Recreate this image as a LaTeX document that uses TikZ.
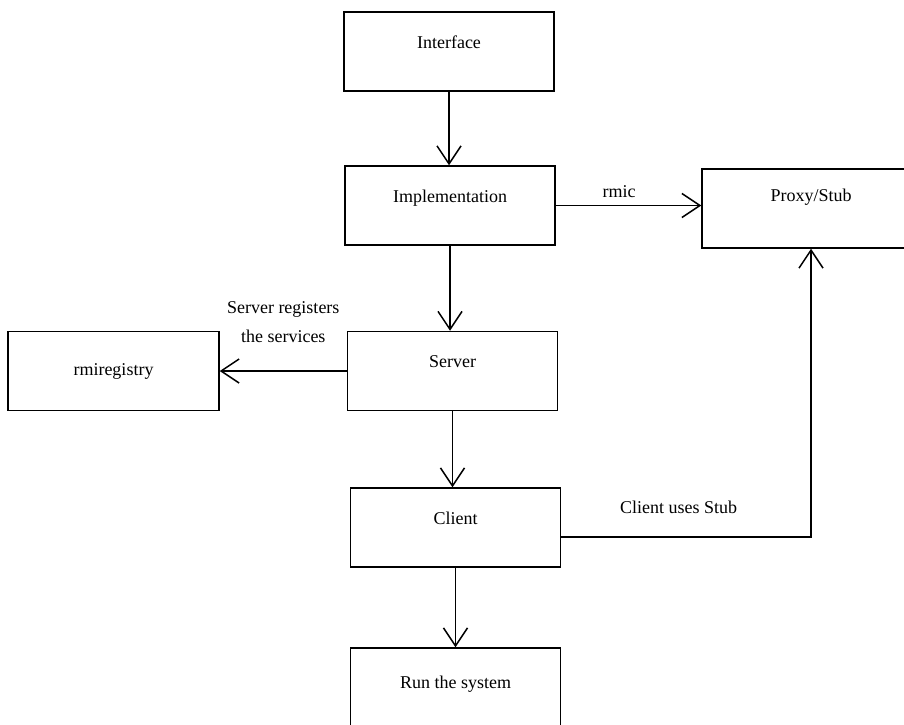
\documentclass[tikz,border=0pt]{standalone}
\usepackage{fontspec}
\setmainfont{Liberation Serif}
\usetikzlibrary{
	positioning,   %定位
	arrows.meta    %箭头
}
\tikzset{
	every picture/.style={
		>={Straight Barb[length=9pt,width=12pt]}
}}
\tikzset{
	box/.style={draw,rectangle,line width=0.75pt,
		minimum width=105pt,inner xsep=0pt,inner ysep=0pt,
		text height=18pt,text depth=21.5pt,
		font=\fontsize{9}{11}\selectfont},
	conn/.style={line width=0.75pt,->},
	lbl/.style={font=\fontsize{9}{11}\selectfont,align=center}
}

\begin{document}
\begin{tikzpicture}[x=0.5pt,y=-0.5pt]
\useasboundingbox (0,0) rectangle (904,724);
%中间一列方框
\node[box] (iface) at (449,51.5) {Interface};
\node[box] (impl) at (450,205.5) {Implementation};
\node[box] (server) at (452.5,371) {Server};
\node[box] (client) at (455.5,527.5) {Client};
\node[box,text height=20pt,text depth=19.5pt] (run) at (455.5,687.5) {Run the system};
%两侧方框
\node[box,minimum width=109pt,text height=16pt,text depth=23.5pt] (proxy) at (811,208.5) {Proxy/Stub};
\node[box,minimum width=105.5pt,text height=22pt,text depth=17.5pt] (rmireg) at (113.5,371) {rmiregistry};
%竖直箭头
\draw[conn] (iface.south) -- (iface.south |- impl.north);
\draw[conn] (impl.south) -- (impl.south |- server.north);
\draw[conn] (server.south) -- (server.south |- client.north);
\draw[conn] (client.south) -- (client.south |- run.north);
%水平箭头及文字
\draw[conn] (impl.east) -- (impl.east -| proxy.west)
	node[lbl,midway,above,xshift=-4.75pt] (rmiclbl) {rmic};
\draw[conn] (server.west) -- (server.west -| rmireg.east)
	node[lbl,midway,above=10.5pt] (reglbl) {Server registers\\[3.5pt]the services};
\draw[conn] ([yshift=-4.75pt]client.east) -|
	node[lbl,pos=0.25,above=8pt,xshift=-3.75pt] (stublbl) {Client uses Stub} (proxy.south);
\end{tikzpicture}
\end{document}
